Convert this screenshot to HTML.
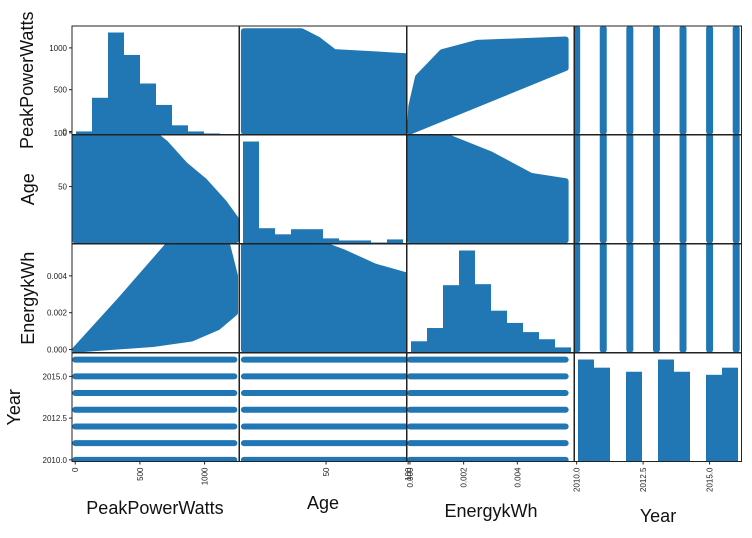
<!DOCTYPE html>
<html><head><meta charset="utf-8">
<style>
body{margin:0;background:#fff;font-family:"Liberation Sans",sans-serif}
svg text{font-family:"Liberation Sans",sans-serif}
</style></head>
<body>
<svg id="c" width="752" height="533" xmlns="http://www.w3.org/2000/svg"></svg>
<script>
const variables=["PeakPowerWatts","Age","EnergykWh","Year"];
const years=[2010,2011,2012,2013,2014,2015,2016];
// histogram counts (relative) per variable
const histPP=[0.03,0.36,1.0,0.78,0.5,0.29,0.09,0.03,0.01,0];
const histAge=[1.0,0.15,0.09,0.14,0.14,0.05,0.03,0.03,0.01,0.04];
const histEnergy=[0.11,0.24,0.66,1.0,0.67,0.41,0.29,0.20,0.13,0.05];
const histYear=[1.0,0.92,0,0.88,0,1.0,0.88,0,0.85,0.92];
// cloud outlines (data space): [x-variable value, y-variable value]
const cloudPPvsAge=[[0,0],[0,1200],[35,1200],[45,1100],[55,950],[100,900],[100,0]];
const cloudPPvsEnergy=[[0,0],[0.00005,300],[0.0003,650],[0.0012,950],[0.0025,1060],[0.0058,1100],[0.0058,760],[0,0]];
const cloudAgevsPP=[[0,0],[1240,0],[1240,20],[1150,35],[1000,55],[850,70],[700,90],[600,100],[0,100]];
const cloudAgevsEnergy=[[0,0],[0.0058,0],[0.0058,55],[0.0045,60],[0.003,80],[0.0015,95],[0.001,100],[0,100]];
const cloudEnergyvsPP=[[0,0],[350,0.0027],[735,0.0058],[1170,0.0058],[1235,0.004],[1235,0.002],[1100,0.0012],[900,0.0006],[600,0.0003],[0,0]];
const cloudEnergyvsAge=[[0,0],[0,0.0058],[45,0.0058],[60,0.0053],[80,0.0045],[100,0.004],[100,0]];
const ranges=[[-25,1270],[-3,99],[-0.00011,0.00613],[2009.9,2016.2]];
const yRanges=[[-36,1262],[-3,98],[-0.00016,0.00573],[2009.9,2016.4]];
const yTicks=[[0,500,1000],[50,100],[0,0.002,0.004],[2010,2012.5,2015]];
const yTickLabels=[["0","500","1000"],["50","100"],["0.000","0.002","0.004"],["2010.0","2012.5","2015.0"]];
const xTicks=[[0,500,1000],[50,100],[0,0.002,0.004],[2010,2012.5,2015]];
const xTickLabels=[["0","500","1000"],["50","100"],["0.000","0.002","0.004"],["2010.0","2012.5","2015.0"]];

const svg=document.getElementById('c');
const NS="http://www.w3.org/2000/svg";
const X0=[72,239,407,574],W=167.5,Y0=[26,135,244,353],H=108.5;
const C="#2077b4";
function mk(t,a,p){const e=document.createElementNS(NS,t);for(const k in a)e.setAttribute(k,a[k]);(p||svg).appendChild(e);return e;}
function sx(col,v){const r=ranges[col];return X0[col]+(v-r[0])/(r[1]-r[0])*W;}
function sy(row,v){const r=yRanges[row];return Y0[row]+H-(v-r[0])/(r[1]-r[0])*H;}
const clipDefs=mk('defs',{});
for(let r=0;r<4;r++)for(let c=0;c<4;c++){
  const cp=mk('clipPath',{id:'cp'+r+c},clipDefs);
  mk('rect',{x:X0[c],y:Y0[r],width:W,height:H},cp);
}
function panel(r,c){const g=mk('g',{'clip-path':'url(#cp'+r+c+')'});

return g;}
function cloud(r,c,pts){const g=panel(r,c);
  const d=pts.map((p,i)=>(i?'L':'M')+sx(c,p[0]).toFixed(1)+','+sy(r,p[1]).toFixed(1)).join('')+'Z';
  const e=mk('path',{d:d,fill:C,stroke:C,'stroke-width':6,'stroke-linejoin':'round'},g);
  
  
}
function vstrips(r,lo,hi){const g=panel(r,3);
  years.forEach(y=>{const l=mk('line',{x1:sx(3,y),x2:sx(3,y),y1:sy(r,lo),y2:sy(r,hi),stroke:C,'stroke-width':7,'stroke-linecap':'round'},g);
  
  });}
function hstrips(c,lo,hi){const g=panel(3,c);
  years.forEach(y=>{const l=mk('line',{x1:sx(c,lo),x2:sx(c,hi),y1:sy(3,y),y2:sy(3,y),stroke:C,'stroke-width':6,'stroke-linecap':'round'},g);
  
  });}
function hist(i,vals,x0,bw){const g=panel(i,i);const bot=Y0[i]+H;const maxH=H*0.94;
  vals.forEach((v,k)=>{if(v<=0)return;const b=mk('rect',{x:x0+k*bw,y:bot-v*maxH,width:bw,height:v*maxH,fill:C},g);
  
  });}
hist(0,histPP,76,16); hist(1,histAge,243,16); hist(2,histEnergy,411,16); hist(3,histYear,578,16);
cloud(0,1,cloudPPvsAge); cloud(0,2,cloudPPvsEnergy); vstrips(0,0,1230);
cloud(1,0,cloudAgevsPP); cloud(1,2,cloudAgevsEnergy); vstrips(1,0,100);
cloud(2,0,cloudEnergyvsPP); cloud(2,1,cloudEnergyvsAge); vstrips(2,0,0.0058);
hstrips(0,0,1230); hstrips(1,0,100); hstrips(2,0,0.0058);
for(let r=0;r<4;r++)for(let c=0;c<4;c++){const f=mk('rect',{x:X0[c],y:Y0[r],width:W,height:H,fill:'none',stroke:'#222','stroke-width':1});

}
for(let r=0;r<4;r++){yTicks[r].forEach((v,k)=>{const y=sy(r,v);
  mk('line',{x1:X0[0]-3,x2:X0[0],y1:y,y2:y,stroke:'#222'});
  const t=mk('text',{x:X0[0]-5,y:y+3,'font-size':8,'text-anchor':'end',fill:'#222'});t.textContent=yTickLabels[r][k];
  
  });
  const lab=mk('text',{transform:'translate('+(r==0?33:r==3?20:34)+','+(Y0[r]+H/2)+') rotate(-90)','font-size':18,'text-anchor':'middle',fill:'#111'});
  lab.textContent=variables[r];
  
  }
const xtitleY=[508,503,511,516];
for(let c=0;c<4;c++){xTicks[c].forEach((v,k)=>{const x=sx(c,v);
  mk('line',{x1:x,x2:x,y1:Y0[3]+H,y2:Y0[3]+H+3,stroke:'#222'});
  const t=mk('text',{transform:'translate('+(x+3)+','+(Y0[3]+H+6)+') rotate(-90)','font-size':8,'text-anchor':'end',fill:'#222'});t.textContent=xTickLabels[c][k];
  
  });
  const lab=mk('text',{x:[155,323,491,658][c],y:xtitleY[c]+6,'font-size':18,'text-anchor':'middle',fill:'#111'});
  lab.textContent=variables[c];
  
  }
</script>
</body></html>
